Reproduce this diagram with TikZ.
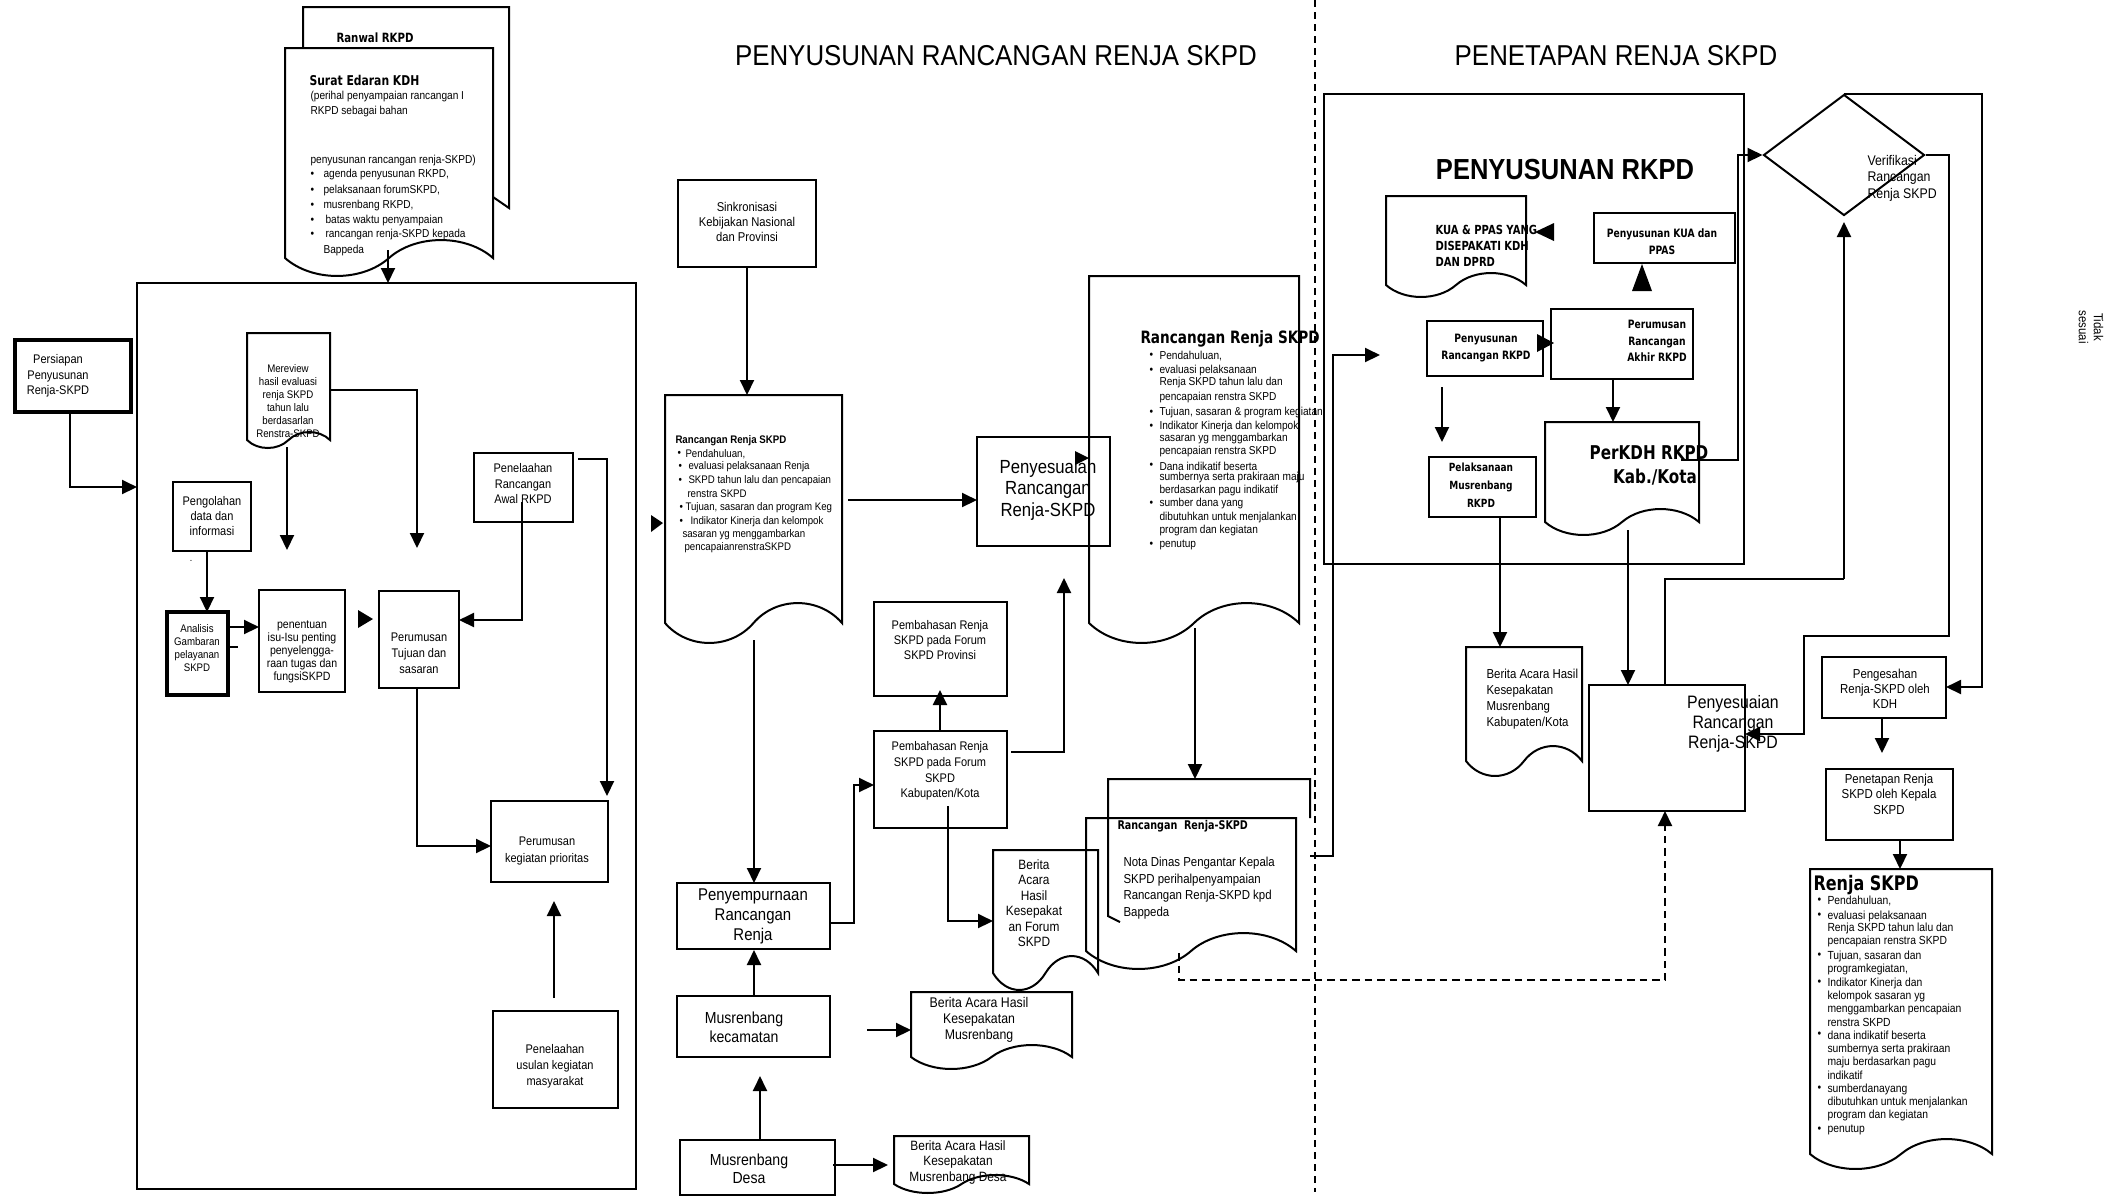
\documentclass[tikz,border=0pt]{standalone}
\usepackage{fontspec}
\setmainfont{Liberation Sans}[FakeStretch=0.88]
\newfontfamily\hfont{Liberation Sans}[FakeStretch=0.9]
\newfontfamily\hb{DejaVu Sans}[FakeStretch=0.8]
\usetikzlibrary{arrows.meta,shapes.geometric}
\newcommand\fsz[2]{\fontsize{#1pt}{#2pt}\selectfont}
\newcounter{nn}
\newcommand\tx[3][]{\stepcounter{nn}\node[tx,#1] (n\thenn) at (#2) {#3};}
\newcommand\bl[4]{\tx{#1,#3}{\textbullet}\tx{#2,#3}{#4}}
\newcommand\bx[6][box]{\node[#1, minimum width={(#5-#3)*0.4pt}, minimum height={(#6-#4)*0.4pt}] (#2) at ({(#3+#5)/2},{(#4+#6)/2}) {};}
\newcommand\docp[6][]{%
 \draw[box,#1] (#2,#5) -- (#2,#3) -- (#4,#3) -- (#4,#5)
 .. controls ({#4-0.13*(#4-#2)},{#5-1.33*#6}) and ({#4-0.37*(#4-#2)},{#5-1.33*#6}) .. ({(#2+#4)/2},#5)
 .. controls ({#2+0.37*(#4-#2)},{#5+1.33*#6}) and ({#2+0.13*(#4-#2)},{#5+1.33*#6}) .. (#2,#5) -- cycle;}
\tikzset{
 box/.style={draw, line width=0.8pt, inner sep=0pt, outer sep=0pt},
 tbox/.style={box, line width=1.6pt},
 ln/.style={line width=0.8pt},
 arr/.style={line width=0.8pt, -{Triangle[length=6pt,width=5.6pt]}},
 tx/.style={inner sep=0pt, anchor=west},
 txc/.style={inner sep=0pt, align=center},
}
\begin{document}
\begin{tikzpicture}[x=0.4pt,y=-0.4pt]
\fill[white] (0,0) rectangle (2108,1196);
\useasboundingbox (0,0) rectangle (2108,1196);

% ---------- headings and divider
\node[font=\hfont\fsz{11.5}{13}, inner sep=0] (h1) at (996,56) {PENYUSUNAN RANCANGAN RENJA SKPD};
\node[font=\hfont\fsz{11.5}{13}, inner sep=0] (h2) at (1616,56) {PENETAPAN RENJA SKPD};
\draw[line width=0.6pt, dash pattern=on 2.8pt off 2pt] (1315,0) -- (1315,1192);

% ---------- LEFT
\draw[ln] (303,48) -- (303,7) -- (509,7) -- (509,208) -- (493,197);
\docp[fill=white]{285}{48}{493}{258}{18}
\node[tx, font=\hb\bfseries\fsz{5.1}{6}] (ranwal) at (336,38) {Ranwal RKPD};
\node[tx, font=\hb\bfseries\fsz{5.4}{6}] (surat) at (309,80) {Surat Edaran KDH};
\begin{scope}[every node/.append style={font=\fsz{4.6}{5.4}}]
\tx{310,97}{(perihal penyampaian rancangan I}
\tx{310,112}{RKPD sebagai bahan}
\tx{310,161}{penyusunan rancangan renja-SKPD)}
\bl{310}{323}{175}{agenda penyusunan RKPD,}
\bl{310}{323}{191}{pelaksanaan forumSKPD,}
\bl{310}{323}{206}{musrenbang RKPD,}
\bl{310}{325}{221}{batas waktu penyampaian}
\bl{310}{325}{235}{rancangan renja-SKPD kepada}
\tx{323,251}{Bappeda}
\end{scope}
\node[box, line width=1.1pt, minimum width=199.6pt, minimum height=362.4pt] (bigL) at (386.5,736) {};
\draw[arr] (388,250) -- (bigL.north -| 388,0);

\bx[tbox]{pers}{15}{340}{131}{412}
\node[txc, font=\fsz{5}{6.2}] (persT) at (58,376) {Persiapan\\Penyusunan\\Renja-SKPD};
\draw[arr] (pers.south -| 70,0) |- (137,487);

\docp{247}{333}{330}{440}{8}
\node[txc, font=\fsz{4.4}{5.2}] (merT) at (288,401) {Mereview\\hasil evaluasi\\renja SKPD\\tahun lalu\\berdasarlan\\Renstra-SKPD};
\draw[arr] (287,447) -- (287,550);
\draw[arr] (330,390) -| (417,548);

\bx{peng}{173}{482}{251}{551}
\node[txc, font=\fsz{5}{6}] (pengT) at (212,516) {Pengolahan\\data dan\\informasi};
\node[inner sep=0, font=\fsz{4}{4}] (dot) at (191,561) {.};
\bx[tbox]{anal}{167}{612}{228}{695}
\node[txc, font=\fsz{4.4}{5.1}] (analT) at (197,648) {Analisis\\Gambaran\\pelayanan\\SKPD};
\draw[arr] (peng.south -| 207,0) -- (anal.north -| 207,0);
\bx{pen}{259}{590}{345}{692}
\node[txc, font=\fsz{4.8}{5.2}] (penT) at (302,652) {penentuan\\isu-Isu penting\\penyelengga-\\raan tugas dan\\fungsiSKPD};
\draw[arr] (226,627) -- (pen.west |- 0,627);
\draw[ln] (226,647) -- (238,647);
\fill (358,610) -- (373,619) -- (358,628) -- cycle;
\bx{pt}{379}{591}{459}{688}
\node[txc, font=\fsz{5}{6.4}] (ptT) at (419,653) {Perumusan\\Tujuan dan\\sasaran};
\bx{pra}{474}{453}{573}{522}
\node[txc, font=\fsz{5}{6.2}] (praT) at (523,484) {Penelaahan\\Rancangan\\Awal RKPD};
\draw[arr] (522,502) |- (pt.east |- 0,620);
\draw[arr] (578,459) -| (607,796);
\bx{pk}{491}{801}{608}{882}
\node[txc, font=\fsz{5}{6.8}] (pkT) at (547,851) {Perumusan\\kegiatan prioritas};
\draw[arr] (pt.south -| 417,0) |- (pk.west |- 0,846);
\bx{pu}{493}{1011}{618}{1108}
\node[txc, font=\fsz{5}{6.5}] (puT) at (555,1066) {Penelaahan\\usulan kegiatan\\masyarakat};
\draw[arr] (554,998) -- (554,901);

% ---------- MIDDLE
\bx{sink}{678}{180}{816}{267}
\node[txc, font=\fsz{5.1}{6}] (sinkT) at (747,222) {Sinkronisasi\\Kebijakan Nasional\\dan Provinsi};
\draw[arr] (sink.south) -- (747,395);
\docp{665}{395}{842}{623}{20}
\node[tx, font=\bfseries\fsz{4.4}{5}] (rrT) at (675,441) {Rancangan Renja SKPD};
\begin{scope}[every node/.append style={font=\fsz{4.4}{5}}]
\bl{677}{685}{454}{Pendahuluan,}
\bl{678}{688}{467}{evaluasi pelaksanaan Renja}
\bl{678}{688}{481}{SKPD tahun lalu dan pencapaian}
\tx{687,494}{renstra SKPD}
\bl{679}{685}{508}{Tujuan, sasaran dan program Keg}
\bl{679}{690}{522}{Indikator Kinerja dan kelompok}
\tx{682,535}{sasaran yg menggambarkan}
\tx{684,548}{pencapaianrenstraSKPD}
\end{scope}
\fill (651,515) -- (663,523) -- (651,532) -- cycle;
\bx{pm}{977}{437}{1110}{546}
\draw[arr] (848,500) -- (pm.west |- 0,500);
\node[txc, font=\fsz{7.6}{8.6}] (pmT) at (1048,490) {Penyesuaian\\Rancangan\\Renja-SKPD};
\fill (1075,451) -- (1089,458) -- (1075,465) -- cycle;

\docp{1089}{276}{1299}{623}{20}
\node[tx, font=\hb\bfseries\fsz{6.8}{8}] (rbT) at (1140,339) {Rancangan Renja SKPD};
\begin{scope}[every node/.append style={font=\fsz{4.6}{5.2}}]
\bl{1149}{1159}{356}{Pendahuluan,}
\bl{1149}{1159}{371}{evaluasi pelaksanaan}
\tx{1159,383}{Renja SKPD tahun lalu dan}
\tx{1159,398}{pencapaian renstra SKPD}
\bl{1149}{1159}{413}{Tujuan, sasaran \& program kegiatan,}
\bl{1149}{1159}{427}{Indikator Kinerja dan kelompok}
\tx{1159,439}{sasaran yg menggambarkan}
\tx{1159,452}{pencapaian renstra SKPD}
\bl{1149}{1159}{466}{Dana indikatif beserta}
\tx{1159,478}{sumbernya serta prakiraan maju}
\tx{1159,491}{berdasarkan pagu indikatif}
\bl{1149}{1159}{504}{sumber dana yang}
\tx{1159,518}{dibutuhkan untuk menjalankan}
\tx{1159,531}{program dan kegiatan}
\bl{1149}{1159}{545}{penutup}
\end{scope}

\bx{prov}{874}{602}{1007}{696}
\node[txc, font=\fsz{5}{6}] (provT) at (940,640) {Pembahasan Renja\\SKPD pada Forum\\SKPD Provinsi};
\bx{kab}{874}{731}{1007}{828}
\node[txc, font=\fsz{5}{6.2}] (kabT) at (940,771) {Pembahasan Renja\\SKPD pada Forum\\SKPD\\Kabupaten/Kota};
\draw[arr] (kab.north -| 940,0) -- (940,690);
\draw[arr] (1011,752) -| (1064,578);
\bx{peny}{677}{883}{830}{949}
\node[txc, font=\fsz{6.8}{8}] (penyT) at (753,916) {Penyempurnaan\\Rancangan\\Renja};
\draw[arr] (754,640) -- (peny.north -| 754,0);
\draw[arr] (peny.east |- 0,923) -- (854,923) -- (854,785) -- (kab.west |- 0,785);
\bx{kec}{677}{996}{830}{1057}
\node[txc, font=\fsz{6.4}{7.6}] (kecT) at (744,1027) {Musrenbang\\kecamatan};
\draw[arr] (kec.north -| 754,0) -- (754,950);
\docp{911}{992}{1072}{1057}{12}
\begin{scope}
\clip (900,985) rectangle (1080,1043);
\node[txc, font=\fsz{5.6}{6.4}] (bmT) at (979,1020) {Berita Acara Hasil\\Kesepakatan\\Musrenbang};
\end{scope}
\draw[arr] (867,1030) -- (911,1030);
\bx{desa}{680}{1140}{835}{1195}
\node[txc, font=\fsz{6.4}{7.2}] (desaT) at (749,1169) {Musrenbang\\Desa};
\draw[arr] (desa.north -| 760,0) -- (760,1076);
\docp{894}{1136}{1029}{1184}{9}
\node[txc, font=\fsz{5.4}{6.2}] (bdT) at (958,1162) {Berita Acara Hasil\\Kesepakatan\\Musrenbang Desa};
\draw[arr] (833,1165) -- (888,1165);
\docp{993}{850}{1098}{973}{17}
\node[txc, font=\fsz{5.4}{6.2}] (bfT) at (1034,903) {Berita\\Acara\\Hasil\\Kesepakat\\an Forum\\SKPD};
\draw[arr] (948,806) |- (993,921);

\draw[arr] (1195,628) -- (1195,779);
\draw[ln] (1120,922) -- (1108,916) -- (1108,779) -- (1310,779) -- (1310,818);
\docp{1086}{818}{1296}{951}{18}
\node[tx, font=\hb\bfseries\fsz{4.8}{6}] (notaH) at (1117,826) {Rancangan\ \ Renja-SKPD};
\node[tx, align=left, font=\fsz{5.2}{6.7}] (notaT) at (1123,888) {Nota Dinas Pengantar Kepala\\SKPD perihalpenyampaian\\Rancangan Renja-SKPD kpd\\Bappeda};
\draw[arr] (1310,856) -| (1333,355) -- (1380,355);

% ---------- RIGHT
\node[box, line width=0.9pt, minimum width=168pt, minimum height=188pt] (rk) at (1534,329) {};
\node[font=\bfseries\fsz{11.6}{13}, inner sep=0] (rkT) at (1565,170) {PENYUSUNAN RKPD};
\docp{1386}{196}{1526}{285}{12}
\node[tx, align=left, font=\hb\bfseries\fsz{5}{6.4}] (kuaT) at (1435,246) {KUA \& PPAS YANG\\DISEPAKATI KDH\\DAN DPRD};
\fill (1535,232) -- (1554,223) -- (1554,241) -- cycle;
\bx{kua}{1594}{213}{1735}{263}
\node[txc, font=\hb\bfseries\fsz{4.6}{6.8}] (kuaB) at (1662,242) {Penyusunan KUA dan\\PPAS};
\fill (1632,291) -- (1642,264) -- (1652,291) -- cycle;
\bx{prr}{1427}{321}{1543}{376}
\node[txc, font=\hb\bfseries\fsz{4.6}{6.8}] (prrT) at (1486,348) {Penyusunan\\Rancangan RKPD};
\fill (1537,334) -- (1554,343) -- (1537,352) -- cycle;
\bx{pak}{1551}{309}{1693}{379}
\node[txc, font=\hb\bfseries\fsz{4.6}{6.6}] (pakT) at (1657,341) {Perumusan\\Rancangan\\Akhir RKPD};
\draw[arr] (pak.south -| 1613,0) -- (1613,422);
\draw[arr] (1442,387) -- (1442,442);
\bx{pel}{1429}{457}{1536}{517}
\node[txc, font=\hb\bfseries\fsz{4.5}{7.2}] (pelT) at (1481,485) {Pelaksanaan\\Musrenbang\\RKPD};
\docp{1545}{422}{1699}{522}{13}
\node[font=\hb\bfseries\fsz{7.6}{9}, inner sep=0] (kdh1) at (1649,453) {PerKDH RKPD};
\node[font=\hb\bfseries\fsz{7.6}{9}, inner sep=0] (kdh2) at (1655,477) {Kab./Kota};

\node[draw, diamond, line width=0.8pt, inner sep=0pt, minimum width=64.4pt, minimum height=48.4pt] (ver) at (1844,155) {};
\node[tx, align=left, font=\fsz{5.6}{6.6}] (verT) at (1867,178) {Verifikasi\\Rancangan\\Renja SKPD};
\draw[arr] (1681,460) -| (1738,155) -- (ver.west);
\node[rotate=-90, txc, font=\fsz{5.2}{6}] (tidak) at (2091,327) {Tidak\\sesuai};

\docp{1466}{647}{1582}{761}{15}
\node[tx, align=left, font=\fsz{5.2}{6.5}] (bkT) at (1486,699) {Berita Acara Hasil\\Kesepakatan\\Musrenbang\\Kabupaten/Kota};
\draw[arr] (pel.south -| 1500,0) -- (1500,647);
\bx{pr}{1589}{685}{1745}{811}
\node[txc, font=\fsz{7.2}{7.9}] (prT) at (1733,724) {Penyesuaian\\Rancangan\\Renja-SKPD};
\draw[arr] (1628,530) -- (pr.north -| 1628,0);
\draw[ln] (1665,685) |- (1844,579);
\draw[arr] (1844,579) -- (1844,222);
\draw[line width=0.8pt, dash pattern=on 3pt off 2pt, -{Triangle[length=6pt,width=5.6pt]}] (1179,953) |- (1665,980) -- (pr.south -| 1665,0);

\bx{pg}{1822}{657}{1946}{718}
\node[txc, font=\fsz{5.2}{5.9}] (pgT) at (1885,689) {Pengesahan\\Renja-SKPD oleh\\KDH};
\draw[arr] (ver.north) -| (1982,687) -- (pg.east |- 0,687);
\draw[arr] (ver.east) -| (1949,636) -| (1804,734) -- (pr.east |- 0,734);
\bx{pn}{1826}{769}{1953}{840}
\node[txc, font=\fsz{5.2}{6.2}] (pnT) at (1889,794) {Penetapan Renja\\SKPD oleh Kepala\\SKPD};
\draw[arr] (pg.south -| 1882,0) -- (1882,753);
\draw[arr] (pn.south -| 1900,0) -- (1900,869);
\docp{1810}{869}{1992}{1154}{15}
\node[tx, font=\hb\bfseries\fsz{8}{9}] (rjT) at (1813,885) {Renja SKPD};
\begin{scope}[every node/.append style={font=\fsz{4.7}{5.3}}]
\bl{1817}{1827}{901}{Pendahuluan,}
\bl{1817}{1827}{916}{evaluasi pelaksanaan}
\tx{1827,928}{Renja SKPD tahun lalu dan}
\tx{1827,941}{pencapaian renstra SKPD}
\bl{1817}{1827}{956}{Tujuan, sasaran dan}
\tx{1827,969}{programkegiatan,}
\bl{1817}{1827}{983}{Indikator Kinerja dan}
\tx{1827,996}{kelompok sasaran yg}
\tx{1827,1009}{menggambarkan pencapaian}
\tx{1827,1022}{renstra SKPD}
\bl{1817}{1827}{1035}{dana indikatif beserta}
\tx{1827,1049}{sumbernya serta prakiraan}
\tx{1827,1062}{maju berdasarkan pagu}
\tx{1827,1075}{indikatif}
\bl{1817}{1827}{1089}{sumberdanayang}
\tx{1827,1102}{dibutuhkan untuk menjalankan}
\tx{1827,1115}{program dan kegiatan}
\bl{1817}{1827}{1130}{penutup}
\end{scope}
\end{tikzpicture}
\end{document}
